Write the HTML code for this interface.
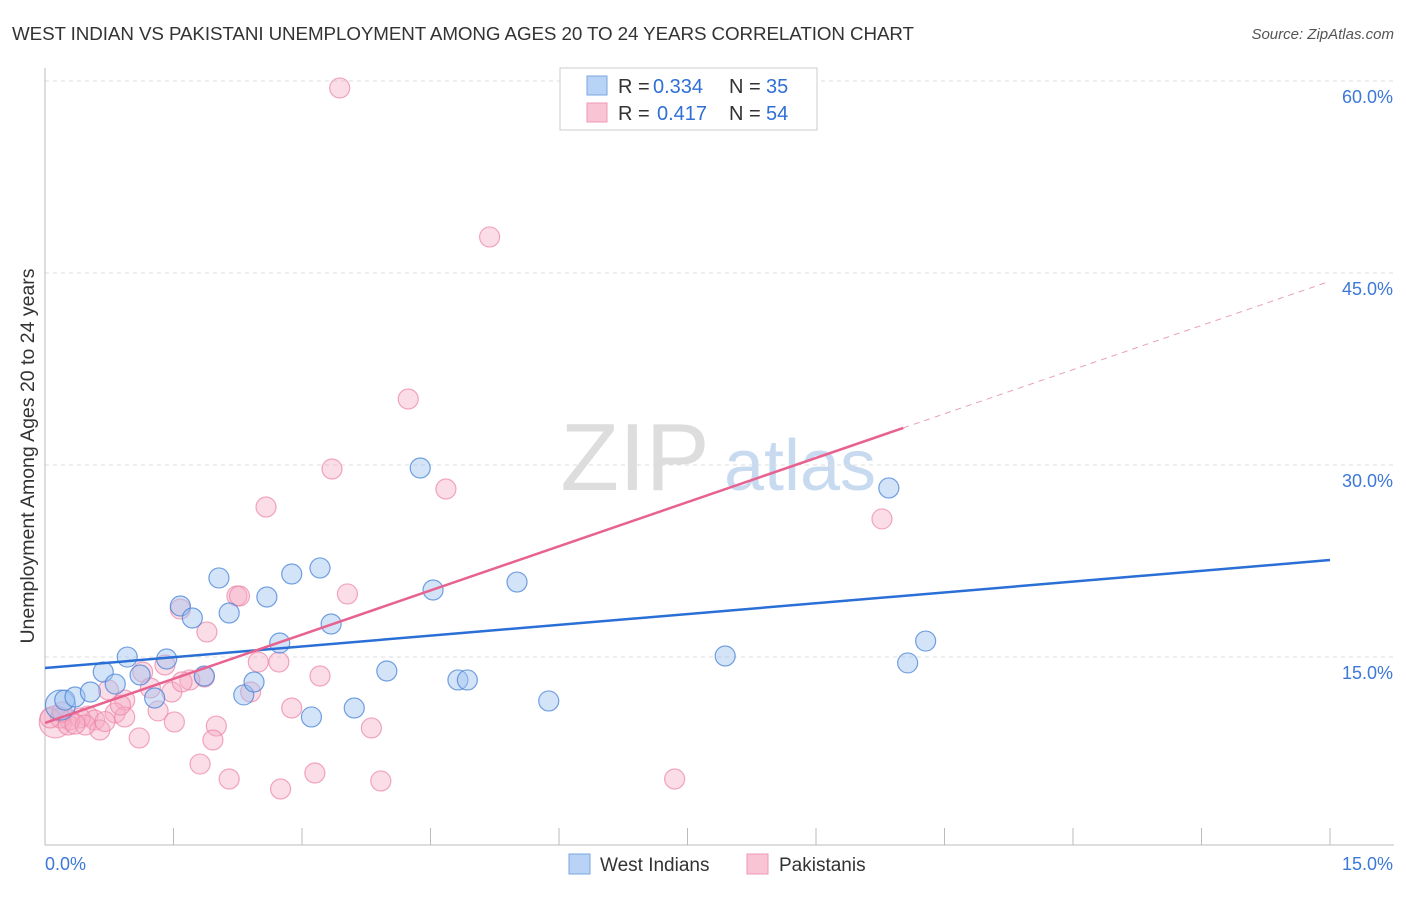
<!DOCTYPE html>
<html><head><meta charset="utf-8"><style>
body{margin:0;background:#fff;font-family:"Liberation Sans",sans-serif;}
svg text{font-family:"Liberation Sans",sans-serif;}
</style></head><body>
<svg id="c" width="1406" height="892" xmlns="http://www.w3.org/2000/svg">
<text x="12" y="40" font-size="18.8" fill="#333" textLength="902">WEST INDIAN VS PAKISTANI UNEMPLOYMENT AMONG AGES 20 TO 24 YEARS CORRELATION CHART</text>
<text x="1394" y="39" font-size="15" fill="#555" text-anchor="end" font-style="italic">Source: ZipAtlas.com</text>
<text x="34" y="456" font-size="19.5" fill="#333" text-anchor="middle" transform="rotate(-90 34 456)">Unemployment Among Ages 20 to 24 years</text>
<g><text x="635" y="490" font-size="96" fill="#ddd" font-family="Liberation Serif" text-anchor="middle">ZIP</text><text x="800" y="490" font-size="72" fill="#c8daf0" text-anchor="middle">atlas</text></g>
<g id="grid"></g><g id="axes"></g><g id="marks"></g>
<g>
<rect x="560" y="68" width="257" height="62" fill="#fff" stroke="#ccc"/>
<rect x="587" y="76" width="20" height="19" fill="#b8d3f5" stroke="#7aa7e0"/>
<rect x="587" y="103" width="20" height="19" fill="#f9c4d3" stroke="#ee9ab4"/>
<text x="618" y="93" font-size="20" fill="#333">R =</text><text x="653" y="93" font-size="20" fill="#2f6fd6">0.334</text>
<text x="729" y="93" font-size="20" fill="#333">N =</text><text x="766" y="93" font-size="20" fill="#2f6fd6">35</text>
<text x="618" y="120" font-size="20" fill="#333">R =</text><text x="657" y="120" font-size="20" fill="#2f6fd6">0.417</text>
<text x="729" y="120" font-size="20" fill="#333">N =</text><text x="766" y="120" font-size="20" fill="#2f6fd6">54</text>
</g>
<g>
<rect x="569" y="854" width="21" height="20" fill="#b8d3f5" stroke="#7aa7e0"/>
<text x="600" y="871" font-size="19" fill="#333">West Indians</text>
<rect x="747" y="854" width="21" height="20" fill="#f9c4d3" stroke="#ee9ab4"/>
<text x="779" y="871" font-size="19" fill="#333">Pakistanis</text>
</g>
</svg>
<script>
const yTicks=[15,30,45,60];
const yTickLabels=["15.0%","30.0%","45.0%","60.0%"];
const xTickLabels=["0.0%","15.0%"];
const blueX=[0.18,0.23,0.35,0.53,0.68,0.82,0.96,1.11,1.28,1.42,1.58,1.72,1.86,2.03,2.15,2.32,2.44,2.59,2.74,2.88,3.11,3.21,3.34,3.61,3.99,4.38,4.53,4.82,4.93,5.51,5.88,7.94,9.85,10.07,10.28];
const blueY=[11.09,11.48,11.72,12.11,13.67,12.73,14.84,13.44,11.64,14.69,18.83,17.89,13.36,21.02,18.28,11.88,12.89,19.53,15.94,21.33,10.16,21.80,17.42,10.86,13.75,29.61,20.08,13.05,13.05,20.70,11.41,14.92,28.05,14.38,16.09];
const pinkX=[0.12,3.44,5.19,4.24,3.35,4.68,2.58,9.77,2.24,3.53,1.58,1.89,2.49,2.73,1.40,1.86,1.69,1.14,3.21,1.23,1.48,2.40,0.74,0.93,2.88,1.32,0.82,2.00,3.81,1.51,0.50,0.58,0.41,0.64,0.29,0.18,0.06,1.10,1.96,1.81,2.15,3.15,3.92,2.75,7.35,0.93,0.27,0.47,0.20,0.88,2.27,1.60,0.35,0.70];
const pinkY=[9.77,59.30,47.66,35.0,29.53,27.97,26.56,25.63,19.61,19.77,18.59,16.80,14.45,14.45,14.22,13.28,13.05,13.67,13.36,12.42,12.11,12.11,12.27,11.48,10.86,10.63,10.47,9.45,9.30,9.77,10.23,9.92,10.08,9.14,9.92,10.08,10.08,8.52,8.36,6.48,5.31,5.78,5.16,4.53,5.31,10.16,9.53,9.53,10.55,11.09,19.61,12.9,9.6,9.8];
const blueTrend=[0,13.98,15,22.42];
const pinkTrend=[0,9.69,10.02,44.2];
const X=v=>45+v/15*1285, Y=v=>847-v*12.8;
const NS="http://www.w3.org/2000/svg";
function mk(p,t,a){const e=document.createElementNS(NS,t);for(const k in a)e.setAttribute(k,a[k]);p.appendChild(e);return e;}
const grid=document.getElementById('grid'),axes=document.getElementById('axes'),marks=document.getElementById('marks');
yTicks.forEach((t,i)=>{
 const l=mk(grid,'line',{x1:45,x2:1394,y1:Y(t)+2,y2:Y(t)+2,stroke:'#ddd','stroke-dasharray':'4,4'});
 
 
 const tx=mk(axes,'text',{x:1393,y:Y(t)+24,'font-size':18,fill:'#3b78d8','text-anchor':'end'});tx.textContent=yTickLabels[i];
 
 
});
const ya=mk(axes,'line',{x1:45,x2:45,y1:68,y2:845,stroke:'#bbb'});


const xa=mk(axes,'line',{x1:45,x2:1394,y1:845,y2:845,stroke:'#bbb'});


for(let i=1;i<=10;i++){const tk=mk(axes,'line',{x1:X(i*1.5),x2:X(i*1.5),y1:828,y2:845,stroke:'#bbb'});
 
 }
const xl0=mk(axes,'text',{x:45,y:870,'font-size':18,fill:'#3b78d8'});xl0.textContent=xTickLabels[0];


const xl1=mk(axes,'text',{x:1393,y:870,'font-size':18,fill:'#3b78d8','text-anchor':'end'});xl1.textContent=xTickLabels[1];


pinkX.forEach((x,i)=>{const c=mk(marks,'circle',{cx:X(x),cy:Y(pinkY[i]),r:i===0?16:10,fill:'rgba(246,170,195,0.4)',stroke:'rgba(236,130,165,0.7)','stroke-width':1.2});
 
 });
blueX.forEach((x,i)=>{const c=mk(marks,'circle',{cx:X(x),cy:Y(blueY[i]),r:i===0?15:10,fill:'rgba(160,195,240,0.45)',stroke:'rgba(70,130,215,0.75)','stroke-width':1.2});
 
 });
const bl=mk(marks,'line',{x1:X(blueTrend[0]),y1:Y(blueTrend[1]),x2:X(blueTrend[2]),y2:Y(blueTrend[3]),stroke:'#2a6fd6','stroke-width':2.5});


const slope=(pinkTrend[3]-pinkTrend[1])/(15-pinkTrend[0]);
const pEnd=pinkTrend[1]+slope*pinkTrend[2];
const pl=mk(marks,'line',{x1:X(pinkTrend[0]),y1:Y(pinkTrend[1]),x2:X(pinkTrend[2]),y2:Y(pEnd),stroke:'#e8628f','stroke-width':2.5});


const pd=mk(marks,'line',{x1:X(pinkTrend[2]),y1:Y(pEnd),x2:X(15),y2:Y(pinkTrend[3]),stroke:'#e8a0b8','stroke-width':1,'stroke-dasharray':'6,5'});


</script>
</body></html>
